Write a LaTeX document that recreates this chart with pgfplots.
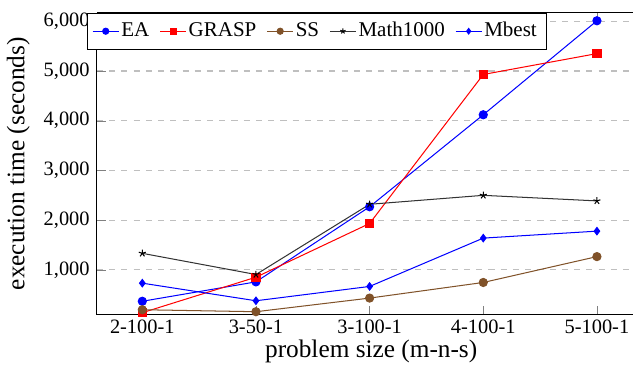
\documentclass[border={0pt 0pt 0pt 3pt}]{standalone}
\usepackage{pgfplots}
\pgfplotsset{compat=1.18}
\usepackage{fontspec}
\setmainfont{Liberation Serif}
\definecolor{ssbrown}{rgb}{0.50,0.32,0.16}
\begin{document}
\begin{tikzpicture}
\begin{axis}[
  scale only axis,
  width=263pt, height=148pt,
  xmin=-0.4, xmax=4.32,
  ymin=100, ymax=6170,
  axis x line*=box,
  axis y line*=left,
  tick align=inside,
  xtick={0,1,2,3,4},
  xticklabels={2-100-1,3-50-1,3-100-1,4-100-1,5-100-1},
  xtick pos=both,
  ytick={1000,2000,3000,4000,5000,6000},
  ytick pos=left,
  /pgf/number format/assume math mode=true,
  /pgf/number format/1000 sep={,},
  ticklabel style={font=\fontsize{10}{12}\selectfont},
  xticklabel style={yshift=1pt},
  ymajorgrids,
  major grid style={gray!50, dash pattern=on 3pt off 3pt, line width=0.5pt},
  xlabel={problem size (m-n-s)},
  ylabel={execution time (seconds)},
  label style={font=\fontsize{12.4}{15}\selectfont},
  xlabel style={xshift=3pt, yshift=4pt},
  legend columns=5,
  legend image post style={scale=0.75},
  legend style={at={(0,1)}, anchor=north west, xshift=-5pt,
    font=\fontsize{10.3}{12}\selectfont, draw=black, fill=white,
    /tikz/every even column/.append style={column sep=3pt},
    /tikz/every odd column/.append style={column sep=-1pt},
    inner sep=2.5pt},
  every axis plot/.append style={line width=0.5pt},
]
\addplot[blue, mark=*, mark size=2pt] coordinates {(0,370) (1,760) (2,2270) (3,4120) (4,6010)};
\addlegendentry{EA}
\addplot[red, mark=square*, mark size=2pt] coordinates {(0,140) (1,854) (2,1934) (3,4930) (4,5350)};
\addlegendentry{GRASP}
\addplot[ssbrown, mark=*, mark size=2pt] coordinates {(0,200) (1,160) (2,434) (3,748) (4,1268)};
\addlegendentry{SS}
\addplot[black!80, mark=star, mark size=1.8pt, mark options={black}] coordinates {(0,1334) (1,908) (2,2320) (3,2500) (4,2388)};
\addlegendentry{Math1000}
\addplot[blue, mark=diamond*, mark size=1.8pt] coordinates {(0,734) (1,380) (2,668) (3,1640) (4,1780)};
\addlegendentry{Mbest}
\end{axis}
\end{tikzpicture}
\end{document}
